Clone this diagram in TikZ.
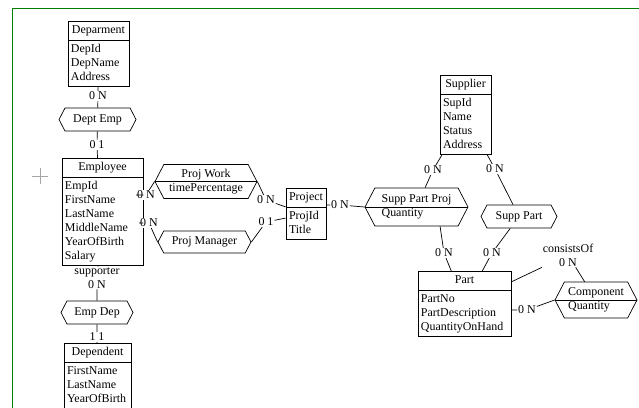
\documentclass[tikz,border=0pt]{standalone}
\usepackage{fontspec}
\setmainfont{Liberation Serif}
\usepackage{tikz}
\usetikzlibrary{shapes.multipart,shapes.symbols,calc}

\begin{document}
\begin{tikzpicture}[font=\fontsize{8.5}{9.96}\selectfont, line width=0.5pt,
  ent/.style={draw, rectangle split, rectangle split parts=2, anchor=north,
    inner xsep=0.075cm, inner ysep=0.05cm},
  rel/.style={draw, fill=white, signal, signal to=west and east,
    signal pointer angle=125, inner xsep=0.05cm, inner ysep=0.05cm},
  card/.style={fill=white, inner sep=0.5pt, align=center},
  frame/.style={color=green!50!black, line width=0.7pt}]
\useasboundingbox (0,0) rectangle (15.975,-10.200);
\draw[frame] (0.300,-10.400) -- (0.300,-0.200) -- (16.100,-0.200);
\draw[gray!70] (0.812,-4.400) -- (1.188,-4.400);
\draw[gray!70] (1.000,-4.212) -- (1.000,-4.588);

% entities
\node[ent] (dept) at (2.462,-0.525) {\strut Deparment
  \nodepart{two}\begin{tabular}{@{}p{1.375cm}@{}}DepId\\DepName\\Address\end{tabular}};
\node[ent] (emp) at (2.562,-3.950) {\strut Employee
  \nodepart{two}\begin{tabular}{@{}p{1.875cm}@{}}EmpId\\FirstName\\LastName\\MiddleName\\YearOfBirth\\Salary\end{tabular}};
\node[ent] (dep) at (2.438,-8.575) {\strut Dependent
  \nodepart{two}\begin{tabular}{@{}p{1.525cm}@{}}FirstName\\LastName\\YearOfBirth\end{tabular}};
\node[ent] (prj) at (7.650,-4.700) {\strut Project
  \nodepart{two}\begin{tabular}{@{}p{0.850cm}@{}}ProjId\\Title\end{tabular}};
\node[ent] (sup) at (11.638,-1.875) {\strut Supplier
  \nodepart{two}\begin{tabular}{@{}p{1.125cm}@{}}SupId\\Name\\Status\\Address\end{tabular}};
\node[ent] (part) at (11.612,-6.775) {\strut Part
  \nodepart{two}\begin{tabular}{@{}p{2.175cm}@{}}PartNo\\PartDescription\\QuantityOnHand\end{tabular}};

% relationships
\node[rel, minimum width=1.925cm, minimum height=0.575cm] (deptemp) at (2.438,-2.988) {Dept Emp};
\node[rel, minimum width=2.550cm, minimum height=0.850cm] (pw) at (5.150,-4.538)
  {\begin{tabular}{@{}l@{}}\multicolumn{1}{@{}c@{}}{Proj Work}\\timePercentage\end{tabular}};
\node[rel, minimum width=2.325cm, minimum height=0.550cm] (pm) at (5.112,-6.050) {Proj Manager};
\node[rel, minimum width=1.800cm, minimum height=0.575cm] (empdep) at (2.425,-7.812) {Emp Dep};
\node[rel, minimum width=2.575cm, minimum height=0.950cm] (spp) at (10.412,-5.175)
  {\begin{tabular}{@{}l@{}}\multicolumn{1}{@{}c@{}}{Supp Part Proj}\\Quantity\end{tabular}};
\node[rel, minimum width=1.900cm, minimum height=0.575cm] (sp) at (12.975,-5.412) {Supp Part};
\node[rel, minimum width=2.050cm, minimum height=0.900cm] (comp) at (14.900,-7.500)
  {\begin{tabular}{@{}l@{}}\multicolumn{1}{@{}c@{}}{Component}\\Quantity\end{tabular}};
\draw (pw.west) -- (pw.east);
\draw (spp.west) -- (spp.east);
\draw (comp.west) -- (comp.east);

% cardinalities
\node[card] (c1) at (2.450,-2.400) {0 N};
\node[card] (c2) at (2.425,-3.625) {0 1};
\node[card] (c3) at (2.425,-6.950) {supporter\\0 N};
\node[card] (c4) at (2.425,-8.425) {1 1};
\node[card] (c5) at (3.650,-4.875) {0 N};
\node[card] (c6) at (3.725,-5.575) {0 N};
\node[card] (c7) at (6.650,-5.000) {0 N};
\node[card] (c8) at (6.650,-5.550) {0 1};
\node[card] (c9) at (8.500,-5.125) {0 N};
\node[card] (c10) at (10.825,-4.250) {0 N};
\node[card] (c11) at (12.375,-4.225) {0 N};
\node[card] (c12) at (11.100,-6.325) {0 N};
\node[card] (c13) at (12.300,-6.325) {0 N};
\node[card] (c14) at (14.200,-6.375) {consistsOf\\0 N};
\node[card] (c15) at (13.175,-7.750) {0 N};

% links
\draw (dept) -- (c1) -- (deptemp);
\draw (deptemp) -- (c2) -- (deptemp |- emp.north);
\draw (emp) -- (c3) -- (empdep);
\draw (empdep) -- (c4) -- (dep);
\draw (emp.east |- c5) -- (c5) -- (pw.west);
\draw (emp.east |- c6) -- (c6) -- (pm.west);
\draw (pw.east) -- (c7) -- (prj);
\draw (pm.east) -- (c8) -- (prj);
\draw (prj.east |- c9) -- (c9) -- (spp.west);
\draw (sup) -- (c10) -- (spp);
\draw (sup) -- (c11) -- (sp);
\draw ([xshift=0.59cm]spp.south) -- (c12) -- (part);
\draw (sp) -- (c13) -- (part);
\draw (part) -- (c14) -- (comp);
\draw (part.east |- c15) -- (c15) -- (comp.west);
\end{tikzpicture}
\end{document}
